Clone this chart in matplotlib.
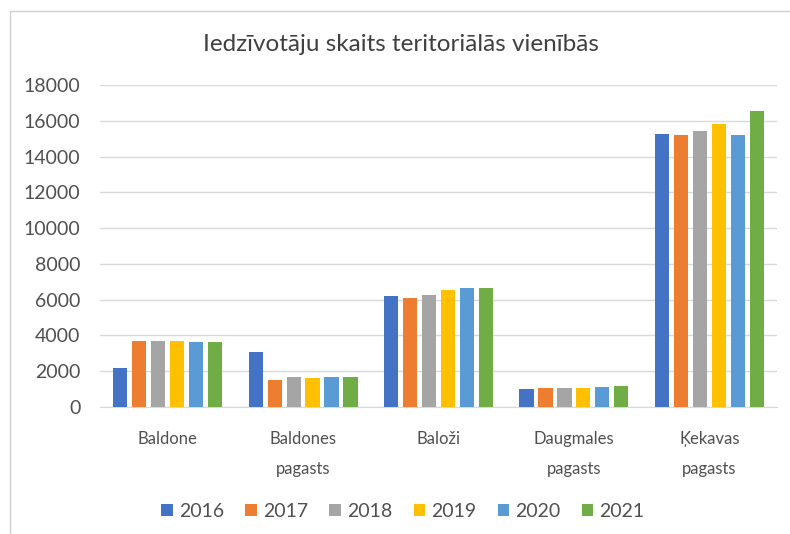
import matplotlib.pyplot as plt
import numpy as np
from matplotlib.patches import Rectangle

plt.rcParams['font.family'] = ['Lato', 'DejaVu Sans']

kategorijas = ['Baldone', 'Baldones\npagasts', 'Baloži', 'Daugmales\npagasts', 'Ķekavas\npagasts']
gadi = ['2016', '2017', '2018', '2019', '2020', '2021']

v2016 = [2200, 3060, 6200, 1000, 15260]
v2017 = [3700, 1520, 6110, 1070, 15220]
v2018 = [3700, 1650, 6280, 1070, 15440]
v2019 = [3710, 1600, 6540, 1070, 15820]
v2020 = [3630, 1650, 6680, 1110, 15220]
v2021 = [3640, 1690, 6650, 1180, 16540]
vertibas = [v2016, v2017, v2018, v2019, v2020, v2021]

krasas = ['#4472C4', '#ED7D31', '#A5A5A5', '#FFC000', '#5B9BD5', '#70AD47']
teksts = '#505050'

fig = plt.figure(figsize=(7.9, 5.34), dpi=100)
ax = fig.add_axes([0.1266, 0.2378, 0.8569, 0.603])

x = np.arange(len(kategorijas))
solis = 0.14
for i, (gads, vals) in enumerate(zip(gadi, vertibas)):
    ax.bar(x + (i - 2.5) * solis, vals, width=0.105, color=krasas[i], label=gads, zorder=3)

ax.set_xlim(-0.5, len(kategorijas) - 0.5)
ax.set_ylim(0, 18000)
ax.set_yticks(np.arange(0, 18001, 2000))
ax.tick_params(axis='y', length=0, pad=14, labelsize=14, colors=teksts)
ax.tick_params(axis='x', length=0, pad=17, labelsize=12, colors=teksts)
ax.set_xticks(x)
ax.set_xticklabels(kategorijas, linespacing=2.1, va='top')
ax.grid(axis='y', color='#D9D9D9', linewidth=1, zorder=0)
for s in ['top', 'right', 'left']:
    ax.spines[s].set_visible(False)
ax.spines['bottom'].set_color('#D9D9D9')

fig.text(0.508, 0.916, 'Iedzīvotāju skaits teritoriālās vienībās', ha='center', va='center',
         fontsize=17.5, color='#404040')

ax.legend(loc='center', bbox_to_anchor=(0.51, 0.043), bbox_transform=fig.transFigure, ncol=6,
          frameon=False, fontsize=14, handlelength=0.6, handleheight=0.6, handletextpad=0.3,
          columnspacing=1.1, labelcolor=teksts)

fig.patches.append(Rectangle((0.013, -0.02), 1.2, 1.0, transform=fig.transFigure,
                             fill=False, edgecolor='#D0D0D0', linewidth=1))

fig.savefig('out.png', dpi=100)
